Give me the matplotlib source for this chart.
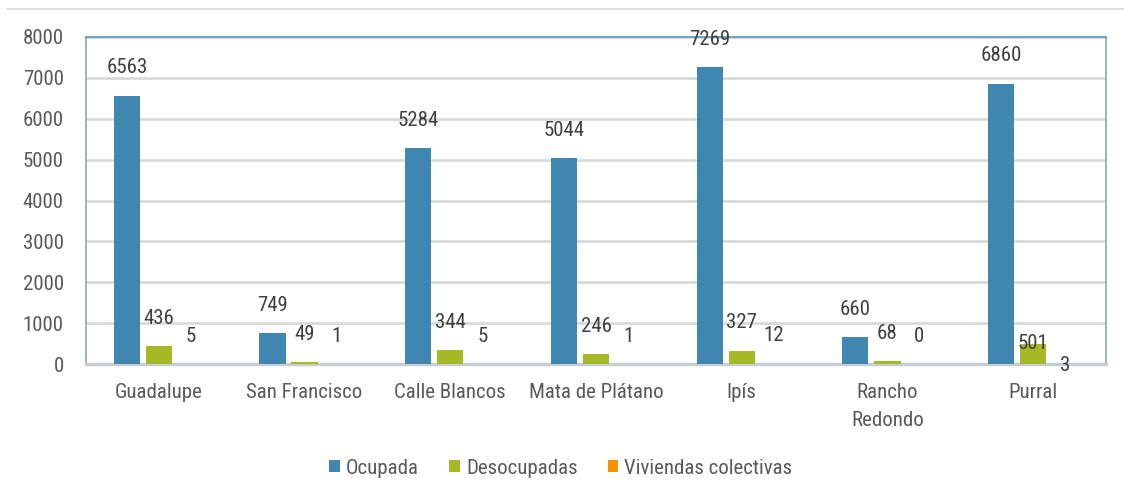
import matplotlib
matplotlib.use("Agg")
import matplotlib.pyplot as plt
from matplotlib.lines import Line2D
from matplotlib import font_manager
import numpy as np

categories = ["Guadalupe", "San Francisco", "Calle Blancos", "Mata de Plátano",
              "Ipís", "Rancho\nRedondo", "Purral"]
ocupada = [6563, 749, 5284, 5044, 7269, 660, 6860]
desocupadas = [436, 49, 344, 246, 327, 68, 501]
colectivas = [5, 1, 5, 1, 12, 0, 3]
series_names = ["Ocupada", "Desocupadas", "Viviendas colectivas"]
yticks = [0, 1000, 2000, 3000, 4000, 5000, 6000, 7000, 8000]

avail = {f.name for f in font_manager.fontManager.ttflist}
fam = [n for n in ["Roboto Condensed", "Liberation Sans"] if n in avail][:1]
plt.rcParams["font.family"] = fam + ["DejaVu Sans"]
FS = 15

colors = ["#3F87B1", "#A5B825", "#F79200"]
text_dark = "#404040"
text_gray = "#595959"

fig = plt.figure(figsize=(11.24, 4.97), dpi=100)
ax = fig.add_axes([86/1124, 1-364/497, (1106-86)/1124, (364-37)/497])

x = np.arange(len(categories))
bw = 0.18
step = 0.22
series = [ocupada, desocupadas, colectivas]
default_off = 20
special = {(1, 6): 0, (2, 6): -1.5}
for i, (vals, c, name) in enumerate(zip(series, colors, series_names)):
    pos = x + (i - 1) * step
    ax.bar(pos, vals, width=bw, color=c, label=name, zorder=3)
    for j, (p, v) in enumerate(zip(pos, vals)):
        off = special.get((i, j), default_off)
        ax.annotate(str(v), (p, v), xytext=(0, off), textcoords="offset points",
                    ha="center", va="center", fontsize=FS, color=text_dark, zorder=4)

ax.set_xlim(-0.5, len(categories) - 0.5)
ax.set_ylim(0, 8000)
ax.set_yticks(yticks)
ax.set_yticklabels([str(t) for t in yticks])
ax.set_xticks(x)
ax.set_xticklabels(categories, linespacing=1.6)
ax.tick_params(axis="both", length=0, labelsize=FS, colors=text_gray)
ax.tick_params(axis="y", pad=16)
ax.tick_params(axis="x", pad=14)
ax.yaxis.grid(True, color="#D9D9D9", linewidth=2, zorder=0)
ax.set_axisbelow(True)
for s in ["top", "left", "right"]:
    ax.spines[s].set_color("#7FA9C9")
    ax.spines[s].set_linewidth(1.2)
ax.spines["top"].set_color("#5B93BD")
ax.spines["bottom"].set_color("#C8CDD2")
ax.spines["bottom"].set_linewidth(2.5)

leg = fig.legend(loc="center", bbox_to_anchor=(561/1124, 1-468/497), ncol=3,
                 frameon=False, fontsize=FS, handlelength=0.5, handleheight=0.5,
                 handletextpad=0.3, columnspacing=1.45)
for t in leg.get_texts():
    t.set_color(text_gray)

fig.add_artist(Line2D([7/1124, 1], [1-9/497, 1-9/497], color="#D9D9D9", linewidth=1.2))

fig.savefig("out.png", dpi=100)
